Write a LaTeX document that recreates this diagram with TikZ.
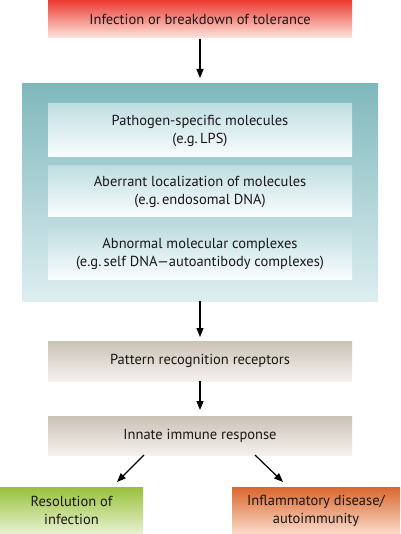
\documentclass[tikz,border=0pt]{standalone}
\usepackage{fontspec}
\setmainfont{PT Sans}
\usetikzlibrary{arrows.meta}
\definecolor{redtop}{HTML}{EC3A32}
\definecolor{redbot}{HTML}{FCE6DE}
\definecolor{tealtop}{HTML}{7FB8BC}
\definecolor{tealbot}{HTML}{DDEEF1}
\definecolor{intop}{HTML}{C0DEE2}
\definecolor{inbot}{HTML}{FAFDFD}
\definecolor{tantop}{HTML}{CBC2B6}
\definecolor{tanbot}{HTML}{F4F1EE}
\definecolor{grntop}{HTML}{98C13A}
\definecolor{grnbot}{HTML}{E9F2D3}
\definecolor{orgtop}{HTML}{DB672C}
\definecolor{orgbot}{HTML}{F9DCCC}
\definecolor{txt}{HTML}{1A1718}
\begin{document}
\begin{tikzpicture}[x=1pt,y=-1pt,
  box/.style={minimum width=304pt, inner sep=0pt, align=center, text=txt, font=\fontsize{14.5}{18}\selectfont},
  arr/.style={-{Triangle[length=9pt,width=7pt]}, line width=1.2pt, black}]
\useasboundingbox (0,0) rectangle (400,534);
% top box
\node[box, minimum height=38pt, top color=redtop, bottom color=redbot] (inf) at (200,19) {Infection or breakdown of tolerance};
% outer teal
\node[minimum width=356pt, minimum height=217pt, inner sep=0pt, top color=tealtop, bottom color=tealbot] (grp) at (200,192.5) {};
\node[box, minimum height=53pt, top color=intop, bottom color=inbot] (m1) at (200,130.5) {Pathogen-specific molecules\\(e.g.\,LPS)};
\node[box, minimum height=51pt, top color=intop, bottom color=inbot] (m2) at (200,191.5) {Aberrant localization of molecules\\(e.g.\,endosomal DNA)};
\node[box, minimum height=51pt, top color=intop, bottom color=inbot] (m3) at (200,253.5) {Abnormal molecular complexes\\(e.g.\,self DNA---autoantibody complexes)};
% tan boxes
\node[box, minimum height=40pt, top color=tantop, bottom color=tanbot] (prr) at (200,361) {Pattern recognition receptors};
\node[box, minimum height=39pt, top color=tantop, bottom color=tanbot] (iir) at (200,435.5) {Innate immune response};
% outcomes
\node[box, minimum width=143pt, minimum height=47pt, top color=grntop, bottom color=grnbot] (res) at (71.5,510.5) {Resolution of\\infection};
\node[box, minimum width=168pt, minimum height=47pt, top color=orgtop, bottom color=orgbot] (dis) at (316,510.5) {Inflammatory disease/\\autoimmunity};
% arrows
\draw[arr] (inf.south) ++(0,1) -- (200,78);
\draw[arr] (grp.south) -- (200,337);
\draw[arr] (prr.south) -- (200,410);
\coordinate (l1) at (144,455);
\coordinate (l2) at (117,482);
\coordinate (r1) at (255,455);
\coordinate (r2) at (283,482);
\draw[arr] (l1) -- (l2);
\draw[arr] (r1) -- (r2);
\end{tikzpicture}
\end{document}
